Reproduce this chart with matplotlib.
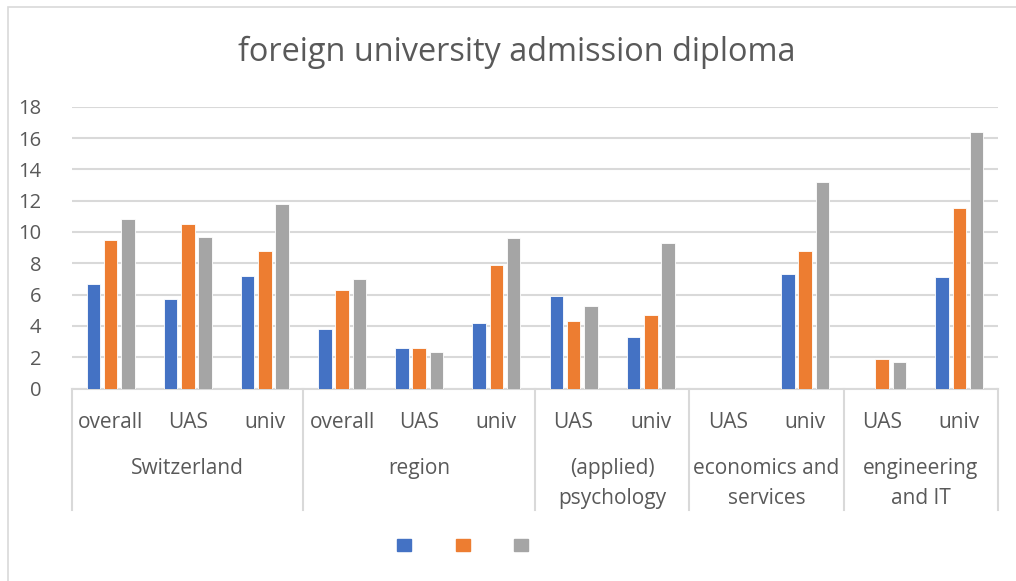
import matplotlib
matplotlib.use("Agg")
import matplotlib.pyplot as plt
import matplotlib.patches as mpatches
import matplotlib.transforms as mtransforms
import numpy as np

plt.rcParams['font.family'] = ['Open Sans', 'DejaVu Sans']

title = "foreign university admission diploma"
groups = ["Switzerland", "region", "(applied)\npsychology", "economics and\nservices", "engineering\nand IT"]
group_sizes = [3, 3, 2, 2, 2]
categories = ["overall", "UAS", "univ", "overall", "UAS", "univ",
              "UAS", "univ", "UAS", "univ", "UAS", "univ"]
series_a = [6.7, 5.7, 7.2, 3.8, 2.6, 4.2, 5.9, 3.3, np.nan, 7.3, np.nan, 7.1]
series_b = [9.5, 10.5, 8.8, 6.3, 2.6, 7.9, 4.3, 4.7, np.nan, 8.8, 1.9, 11.5]
series_c = [10.8, 9.7, 11.8, 7.0, 2.3, 9.6, 5.3, 9.3, np.nan, 13.2, 1.7, 16.4]
yticks = [0, 2, 4, 6, 8, 10, 12, 14, 16, 18]

colors = ["#4472C4", "#ED7D31", "#A5A5A5"]
text_color = "#595959"
grid_color = "#D9D9D9"

W, H = 1016, 581
fig = plt.figure(figsize=(W / 100, H / 100), dpi=100)
ax_left, ax_right = 72 / W, 998 / W
ax_bottom, ax_top = (H - 388.5) / H, (H - 106.7) / H
ax = fig.add_axes([ax_left, ax_bottom, ax_right - ax_left, ax_top - ax_bottom])

# chart border
fig.patches.append(mpatches.Rectangle((8 / W, -0.1), 1.2, (H - 7) / H + 0.1,
                                      transform=fig.transFigure, fill=False,
                                      edgecolor=grid_color, linewidth=1.2))

x = np.arange(len(categories))
bw = 0.175
off = 0.224
for i, (vals, c) in enumerate(zip([series_a, series_b, series_c], colors)):
    ax.bar(x + (i - 1) * off, vals, width=bw, color=c, edgecolor="white", linewidth=0.6, zorder=3)

ax.set_xlim(-0.5, len(categories) - 0.5)
ax.set_ylim(0, 18)
ax.set_yticks(yticks)
ax.set_yticklabels([str(t) for t in yticks], fontsize=14.5, color=text_color)
ax.tick_params(axis='y', length=0, pad=22)
ax.yaxis.grid(True, color=grid_color, linewidth=1.5, zorder=0)
ax.set_axisbelow(True)
for s in ["top", "right", "left"]:
    ax.spines[s].set_visible(False)
ax.spines["bottom"].set_color(grid_color)
ax.spines["bottom"].set_linewidth(1.5)

ax.set_xticks(x)
ax.set_xticklabels(categories, fontsize=15, color=text_color)
ax.tick_params(axis='x', length=0, pad=17)

trans = mtransforms.blended_transform_factory(ax.transData, ax.transAxes)
ah = 388.5 - 106.7
bounds = np.concatenate([[0], np.cumsum(group_sizes)]) - 0.5
for b in bounds:
    ax.plot([b, b], [0, -(510 - 388.5) / ah], transform=trans, color=grid_color,
            linewidth=1.5, clip_on=False)
for g, start, size in zip(groups, bounds[:-1], group_sizes):
    ax.text(start + size / 2, -(458 - 388.5) / ah, g, transform=trans, ha='center', va='top',
            fontsize=15, color=text_color, linespacing=1.55)

fig.text(517 / W, (H - 52) / H, title, ha='center', va='center', fontsize=23.4, color=text_color)

handles = [mpatches.Patch(color=c) for c in colors]
leg = ax.legend(handles, ["", "", ""], ncol=3, loc='center', frameon=False,
                bbox_to_anchor=((471 - 72) / 926, -(546 - 388.5) / ah),
                handlelength=1.0, handleheight=1.0, fontsize=10,
                handletextpad=1.2, columnspacing=2.0)

fig.savefig("out.png", dpi=100, facecolor="white")
